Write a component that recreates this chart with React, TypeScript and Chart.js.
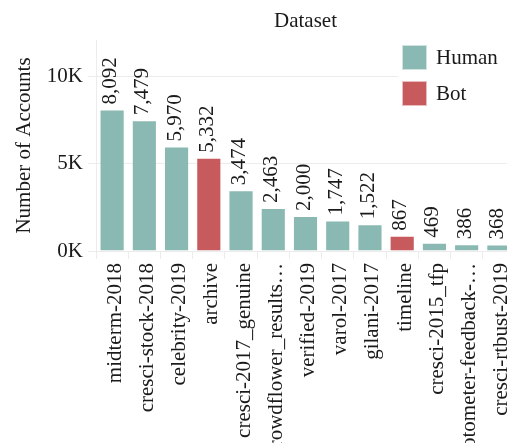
import React, { useEffect, useRef } from "react";
import { Chart, registerables } from "chart.js";

Chart.register(...registerables);

const categories = [
  "midterm-2018",
  "cresci-stock-2018",
  "celebrity-2019",
  "archive",
  "cresci-2017_genuine",
  "crowdflower_results…",
  "verified-2019",
  "varol-2017",
  "gilani-2017",
  "timeline",
  "cresci-2015_tfp",
  "botometer-feedback-…",
  "cresci-rtbust-2019",
];
const accounts = [8092, 7479, 5970, 5332, 3474, 2463, 2000, 1747, 1522, 867, 469, 386, 368];
const accountType = ["Human", "Human", "Human", "Bot", "Human", "Human", "Human", "Human", "Human", "Bot", "Human", "Human", "Human"];
const legendLabels = ["Human", "Bot"];
const yTicks = [0, 5000, 10000];

const COLORS: Record<string, string> = { Human: "#8ab8b2", Bot: "#c65a5c" };
const FONT = "'Liberation Serif', 'Times New Roman', serif";
const TEXT = "#1a1a1a";
const GRID = "#ececec";

const valueLabels = {
  id: "valueLabels",
  afterDatasetsDraw(chart: any) {
    const ctx = chart.ctx;
    const meta = chart.getDatasetMeta(0);
    ctx.save();
    ctx.font = `21px ${FONT}`;
    ctx.fillStyle = TEXT;
    ctx.textAlign = "left";
    ctx.textBaseline = "alphabetic";
    meta.data.forEach((el: any, i: number) => {
      const v = chart.data.datasets[0].data[i];
      ctx.save();
      ctx.translate(el.x + 4, el.y - 5);
      ctx.rotate(-Math.PI / 2);
      ctx.fillText(v.toLocaleString("en-US"), 0, 0);
      ctx.restore();
    });
    ctx.restore();
  },
};

const customLegend = {
  id: "customLegend",
  afterDraw(chart: any) {
    const ctx = chart.ctx;
    const area = chart.chartArea;
    const x0 = area.right - 113;
    ctx.save();
    ctx.fillStyle = "#ffffff";
    ctx.fillRect(x0 - 4, area.top - 2, 130, 74);
    ctx.font = `21px ${FONT}`;
    ctx.textAlign = "left";
    ctx.textBaseline = "middle";
    legendLabels.forEach((lab, i) => {
      const y = area.top + 5 + i * 36;
      ctx.fillStyle = COLORS[lab];
      ctx.fillRect(x0, y, 25, 25);
      ctx.strokeStyle = "rgba(255,255,255,0.6)";
      ctx.lineWidth = 1;
      ctx.strokeRect(x0 + 0.5, y + 0.5, 24, 24);
      ctx.fillStyle = TEXT;
      ctx.fillText(lab, x0 + 34, y + 13);
    });
    ctx.restore();
  },
};

export default function App() {
  const ref = useRef<HTMLCanvasElement | null>(null);
  useEffect(() => {
    if (!ref.current) return;
    const chart = new Chart(ref.current, {
      type: "bar",
      data: {
        labels: categories,
        datasets: [
          {
            label: "Accounts",
            data: accounts,
            backgroundColor: accountType.map((t) => COLORS[t]),
            borderColor: "rgba(255,255,255,0.5)",
            borderWidth: 1,
            barPercentage: 0.78,
            categoryPercentage: 1,
          },
        ],
      },
      options: {
        animation: false,
        responsive: false,
        maintainAspectRatio: false,
        layout: { padding: { left: 0, right: 15, top: 0, bottom: 0 } },
        plugins: {
          legend: { display: false },
          tooltip: { enabled: false },
          title: {
            display: true,
            text: "Dataset",
            fullSize: false,
            color: TEXT,
            font: { family: FONT, size: 21, weight: "normal", lineHeight: 1.2 },
            padding: { top: 8.4, bottom: 6.4 },
          },
        },
        scales: {
          x: {
            grid: { display: true, drawOnChartArea: false, offset: true, tickLength: 8, color: GRID },
            border: { display: true, color: GRID },
            ticks: {
              maxRotation: 90,
              minRotation: 90,
              autoSkip: false,
              padding: 4,
              labelOffset: 3,
              color: TEXT,
              font: { family: FONT, size: 21 },
            },
            afterFit: (scale: any) => {
              scale.height = 480 - 251;
            },
          },
          y: {
            min: 0,
            max: 12060,
            afterBuildTicks: (scale: any) => {
              scale.ticks = yTicks.map((v) => ({ value: v }));
            },
            grid: { color: GRID, tickLength: 8 },
            border: { display: true, color: GRID },
            ticks: {
              padding: 5,
              color: TEXT,
              font: { family: FONT, size: 21 },
              callback: (v: any) => `${Number(v) / 1000}K`,
            },
            title: {
              display: true,
              text: "Number of Accounts",
              color: TEXT,
              font: { family: FONT, size: 21, lineHeight: 1.2 },
              padding: { top: 12, bottom: 0 },
            },
            afterFit: (scale: any) => {
              scale.width = 96;
            },
          },
        },
      },
      plugins: [valueLabels, customLegend],
    });
    return () => chart.destroy();
  }, []);
  return (
    <div style={{ position: "fixed", left: 0, top: 0, width: 507, height: 443, overflow: "hidden", background: "#fff" }}>
      <canvas ref={ref} width={530} height={480} style={{ width: 530, height: 480, display: "block" }} />
    </div>
  );
}
